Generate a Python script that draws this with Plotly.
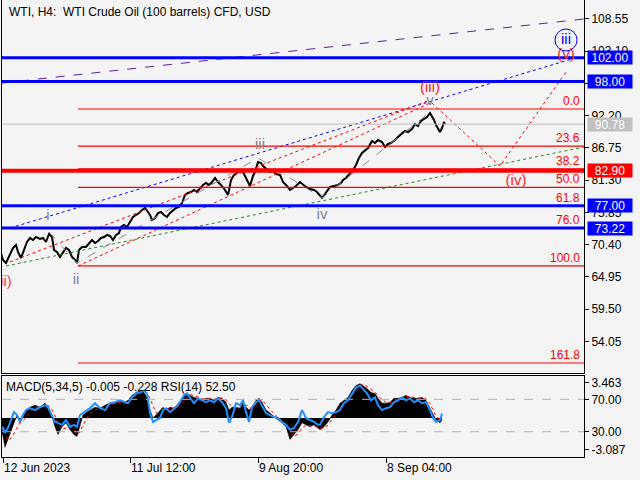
import plotly.graph_objects as go

# ---------------- data ----------------
# price path (bar index, price)
bar_x = [0,3,6,10,13,16,18,21,24,27,30,33,36,40,43,46,49,52,54,57,60,63,66,69,72,75,77,79,82,86,89,92,95,98,
         101,104,107,110,113,116,119,121,124,127,130,133,136,139,142,145,148,150,152,155,158,161,164,167,170,
         173,176,179,182,185,188,191,194,197,200,203,206,209,212,215,218,221,225,228,231,234,238,242,245,248,
         250,253,255,258,261,263,267,270,273,276,280,283,287,290,293,296,300,303,306,310,314,317,320,322,325,
         327,330,334,338,341,343,346,349,353,356,359,362,365,368,372,375,378,382,385,388,391,395,399,402,405,
         408,412,415,418,421,424,427,430,432,434,436,438,440,442,444,445]
close = [69.51,67.82,67.31,68.67,69.85,70.36,69.17,68.16,69.51,70.86,71.54,71.20,71.71,71.37,71.54,70.86,72.21,
         71.71,69.51,69.17,68.33,69.17,69.85,69.51,68.33,67.82,67.31,69.51,70.02,70.02,70.69,71.20,70.69,71.03,
         71.54,71.71,72.05,71.88,71.20,72.05,72.38,73.40,73.74,73.40,74.24,75.09,75.43,75.76,76.27,76.61,75.93,
         75.43,74.58,74.92,75.76,75.93,75.43,75.09,75.76,76.27,76.61,76.78,77.45,78.81,79.14,79.31,79.65,79.31,
         79.99,80.50,80.83,80.50,81.00,81.68,81.00,80.50,79.65,78.81,81.34,82.19,82.69,83.03,82.02,80.83,80.33,
         82.02,82.69,84.38,84.21,83.71,83.03,82.69,82.86,82.35,82.19,81.00,80.33,79.65,79.99,80.33,81.00,80.50,
         80.16,79.82,79.65,79.31,78.64,78.30,78.97,79.48,80.16,80.33,80.50,80.83,81.34,81.68,82.19,83.03,83.88,
         85.06,85.90,86.41,86.75,87.93,87.59,88.10,87.76,86.92,87.43,87.59,88.10,88.78,89.28,89.62,89.45,89.96,
         90.80,90.46,91.31,91.65,91.99,92.66,92.16,91.48,90.63,89.96,89.45,90.12,91.14,90.78]

# horizontal levels
level_prices = [102.00, 98.00, 82.90, 77.00, 73.22]
level_colors = ["#0000ff", "#0000ff", "#ff0000", "#0000ff", "#0000ff"]
last_price = 90.78

# Fibonacci retracement
fib_pct = ["0.0", "23.6", "38.2", "50.0", "61.8", "76.0", "100.0", "161.8"]
fib_price = [93.34, 87.08, 83.21, 80.08, 76.94, 73.18, 66.81, 50.41]
fib_start = 78

# diagonal / wave lines (bar, price)
purple_x, purple_y = [2, 584], [97.73, 108.55]
blue_x, blue_y = [10, 575], [73.23, 101.96]
redA_x, redA_y = [78, 430], [66.81, 94.35]
redB_x, redB_y = [10, 430], [67.48, 94.86]
green_x, green_y = [6, 584], [66.81, 86.92]
zig_x = [49, 77, 258, 322, 430]
zig_y = [72.55, 67.31, 85.06, 78.30, 92.80]
fut_x = [432, 500, 566]
fut_y = [94.35, 83.71, 99.59]

# wave labels
wave_text = ["ii)", "i", "ii", "iii", "iv", "v"]
wave_x = [6, 48, 76, 260, 322, 430]
wave_y = [64.10, 75.26, 64.44, 87.25, 75.42, 94.69]
wave_col = ["#ff4040", "#7a8298", "#7a8298", "#8a8088", "#7a8298", "#7a8298"]
big_text = ["(iii)", "(iv)", "(v)"]
big_x = [430, 516, 566]
big_y = [96.89, 81.17, 102.47]
circ_text, circ_x, circ_y = "iii", 566, 105.0

# indicator panel
ind_x = [0,3,5,8,11,14,17,20,23,26,30,35,40,45,48,52,55,58,62,66,70,74,77,80,83,87,90,95,100,105,110,115,120,
         125,128,132,136,140,144,147,150,153,156,160,163,166,170,174,178,181,184,187,190,194,198,202,206,210,214,
         218,222,226,229,232,236,240,243,246,249,252,256,259,262,266,270,274,278,282,286,290,294,298,302,306,310,
         314,318,320,324,328,332,336,340,344,348,352,356,360,363,367,371,375,378,382,386,390,394,398,402,406,410,
         414,418,422,426,430,433,436,440,442]
macd = [-1.16,-1.8,-2.89,-2.12,-1.35,-0.67,0.29,-0.48,0.10,0.77,1.06,1.25,1.06,1.45,1.06,0.10,-0.87,-1.64,-0.87,
        -0.48,-1.16,-1.64,-1.83,-0.67,0.29,0.58,0.77,1.06,0.96,1.25,1.45,1.54,1.73,1.54,1.73,2.22,2.50,2.70,2.50,
        2.02,0.77,0.00,0.29,0.77,1.06,0.77,1.06,0.96,1.45,1.73,2.22,2.41,2.22,2.02,1.93,1.73,1.93,1.93,1.73,2.02,
        1.93,1.54,0.77,1.06,1.06,0.96,1.54,1.06,0.77,1.06,1.73,1.93,1.54,0.77,0.48,0.10,-0.19,-0.48,-0.87,-2.12,
        -1.64,-1.16,-0.48,-0.67,-0.87,-0.67,-0.96,-1.16,-0.87,-0.39,0.29,0.77,1.45,1.73,2.02,2.70,3.18,3.37,3.18,
        2.89,2.50,2.41,1.93,1.45,1.45,1.54,1.93,1.93,2.02,2.22,2.02,1.93,1.93,2.02,1.73,0.96,0.29,-0.19,-0.48,-0.19]
signal = [-0.8,-1.2,-1.7,-2.2,-2.0,-1.5,-0.9,-0.5,-0.3,0.1,0.6,1.0,1.1,1.2,1.25,0.8,0.2,-0.6,-1.1,-1.0,-0.9,-1.2,
          -1.6,-1.4,-0.7,0.0,0.4,0.8,0.95,1.05,1.3,1.45,1.55,1.6,1.6,1.85,2.2,2.5,2.6,2.45,1.9,1.1,0.5,0.45,0.7,0.9,
          0.95,0.95,1.1,1.4,1.8,2.1,2.3,2.2,2.05,1.9,1.85,1.9,1.85,1.85,1.95,1.8,1.4,1.1,1.0,1.0,1.2,1.3,1.0,0.95,
          1.3,1.7,1.75,1.3,0.8,0.4,0.05,-0.3,-0.6,-1.3,-1.8,-1.6,-1.0,-0.7,-0.75,-0.8,-0.85,-1.0,-1.0,-0.7,-0.2,0.4,
          1.0,1.5,1.8,2.3,2.8,3.2,3.3,3.1,2.8,2.55,2.2,1.8,1.55,1.5,1.7,1.9,2.0,2.1,2.1,2.0,1.95,1.95,1.85,1.4,0.8,
          0.2,-0.2,-0.23]
rsi = [30.0,34.8,28.8,34.8,44.5,54.2,50.6,42.1,50.6,56.7,59.1,56.7,60.3,62.7,60.3,50.6,42.1,40.9,38.5,44.5,36.1,
       38.5,36.1,50.6,53.0,56.7,59.1,65.2,59.1,56.7,65.2,66.4,68.8,66.4,65.2,72.4,77.3,78.5,80.9,77.3,53.0,42.1,
       44.5,47.0,56.7,59.1,54.2,59.1,62.7,68.8,74.8,77.3,72.4,65.2,71.2,68.8,66.4,68.8,66.4,71.2,66.4,59.1,40.9,
       48.2,65.2,62.7,68.8,54.2,42.1,60.3,66.4,68.8,62.7,53.0,50.6,48.2,47.0,42.1,38.5,32.4,34.8,42.1,56.7,47.0,
       44.5,42.1,38.5,38.5,48.2,54.2,53.0,54.2,56.7,65.2,68.8,77.3,84.5,86.9,83.3,77.3,68.8,72.4,62.7,56.7,59.1,
       60.3,66.4,68.8,72.4,68.8,71.2,66.4,68.8,65.2,66.4,56.7,47.0,42.1,44.5,52.5]

date_ticks = [3, 130, 258, 386]
date_labels = ["12 Jun 2023", "11 Jul 12:00", "9 Aug 20:00", "8 Sep 04:00"]
price_ticks = [108.55, 103.10, 97.65, 92.20, 86.75, 81.30, 75.85, 70.40, 64.95, 59.50, 54.05]

FONT = "Liberation Sans"
BG = "#f4f4f4"

fig = go.Figure()

# price
fig.add_trace(go.Scatter(x=bar_x, y=close, mode="lines", line=dict(color="black", width=2),
                         xaxis="x", yaxis="y", hoverinfo="skip"))

def seg(xs, ys, color, dash, width=1):
    fig.add_trace(go.Scatter(x=xs, y=ys, mode="lines", line=dict(color=color, width=width, dash=dash),
                             xaxis="x", yaxis="y", hoverinfo="skip"))

seg(purple_x, purple_y, "#5b1f9e", "dash")
seg(blue_x, blue_y, "#0000ff", "dot")
seg(redA_x, redA_y, "#ff0000", "dot")
seg(redB_x, redB_y, "#ff0000", "dot")
seg(green_x, green_y, "#1e8c1e", "dot")
seg(zig_x, zig_y, "#8c8c8c", "dash")
seg(fut_x, fut_y, "#ff0000", "dot")

# horizontal levels
xmin, xmax = 2, 584
seg([xmin, xmax], [last_price, last_price], "#c0c0c0", "solid", 1)
for p in fib_price:
    seg([fib_start, xmax], [p, p], "#ff0000", "solid", 1.2)
for p, c in zip(level_prices, level_colors):
    seg([xmin, xmax], [p, p], c, "solid", 3 if c == "#0000ff" else 4)

# wave labels
fig.add_trace(go.Scatter(x=wave_x, y=wave_y, mode="text", text=wave_text,
                         textfont=dict(family=FONT, size=15, color=wave_col),
                         xaxis="x", yaxis="y", hoverinfo="skip", cliponaxis=True))
fig.add_trace(go.Scatter(x=big_x, y=big_y, mode="text", text=big_text,
                         textfont=dict(family=FONT, size=15, color="#ff2020"),
                         xaxis="x", yaxis="y", hoverinfo="skip"))
fig.add_trace(go.Scatter(x=[circ_x], y=[circ_y], mode="markers+text", text=[circ_text],
                         marker=dict(symbol="circle-open", size=22, color="#0000ff", line=dict(width=1)),
                         textposition="middle center",
                         textfont=dict(family=FONT, size=15, color="#0000ff"),
                         xaxis="x", yaxis="y", hoverinfo="skip"))

# indicator
fig.add_trace(go.Scatter(x=ind_x, y=macd, mode="lines", fill="tozeroy", fillcolor="black",
                         line=dict(color="black", width=0.5), xaxis="x2", yaxis="y2", hoverinfo="skip"))
fig.add_trace(go.Scatter(x=ind_x, y=signal, mode="lines", line=dict(color="#ff0000", width=1, dash="dot"),
                         xaxis="x2", yaxis="y2", hoverinfo="skip"))
fig.add_trace(go.Scatter(x=[xmin, xmax], y=[70, 70], mode="lines", line=dict(color="#b4b4b4", width=1, dash="dash"),
                         xaxis="x2", yaxis="y3", hoverinfo="skip"))
fig.add_trace(go.Scatter(x=[xmin, xmax], y=[30, 30], mode="lines", line=dict(color="#b4b4b4", width=1, dash="dash"),
                         xaxis="x2", yaxis="y3", hoverinfo="skip"))
fig.add_trace(go.Scatter(x=ind_x, y=rsi, mode="lines", line=dict(color="#1e90ff", width=2),
                         xaxis="x2", yaxis="y3", hoverinfo="skip"))

annotations = [
    dict(text="WTI, H4:\u00a0\u00a0WTI Crude Oil (100 barrels) CFD, USD", xref="paper", yref="paper",
         x=0, y=1, xanchor="left", yanchor="top", xshift=5, yshift=-3, showarrow=False,
         font=dict(family=FONT, size=12, color="black")),
    dict(text="MACD(5,34,5) -0.005 -0.228 RSI(14) 52.50", xref="paper", yref="paper",
         x=0, y=0.1772, xanchor="left", yanchor="top", xshift=2, yshift=-2, showarrow=False,
         font=dict(family=FONT, size=12, color="black")),
]
for pct, p in zip(fib_pct, fib_price):
    annotations.append(dict(text=pct, xref="paper", yref="y", x=1, y=p, xanchor="right", yanchor="bottom",
                            xshift=-2, yshift=-1, showarrow=False,
                            font=dict(family=FONT, size=12, color="#ff0000")))
boxes = [(102.00, "#0000ff"), (98.00, "#0000ff"), (last_price, "#c0c0c0"), (82.90, "#ff0000"),
         (77.00, "#0000ff"), (73.22, "#0000ff")]
for p, c in boxes:
    annotations.append(dict(text=f"{p:.2f}", xref="paper", yref="y", x=1, y=p, xanchor="left", yanchor="middle",
                            xshift=3, showarrow=False, bgcolor=c, width=44, height=13, borderpad=0,
                            font=dict(family=FONT, size=12, color="white")))

axis_common = dict(showgrid=False, zeroline=False, showline=True, linecolor="black", linewidth=1, mirror=True)
fig.update_layout(
    width=640, height=480, margin=dict(l=2, r=56, t=0, b=23, autoexpand=False),
    paper_bgcolor=BG, plot_bgcolor=BG, showlegend=False,
    xaxis=dict(domain=[0, 1], range=[xmin, xmax], anchor="y", showticklabels=False, ticks="", **axis_common),
    yaxis=dict(domain=[0.1838, 1], range=[48.72, 111.76], side="right", tickvals=price_ticks,
               ticktext=[f"{v:.2f}" for v in price_ticks], ticks="outside", ticklen=4, tickcolor="black",
               tickfont=dict(family=FONT, size=12, color="black"), anchor="x", **axis_common),
    xaxis2=dict(domain=[0, 1], range=[xmin, xmax], anchor="y2", tickvals=date_ticks, ticktext=date_labels,
                ticks="outside", ticklen=5, tickcolor="black", ticklabelposition="outside right",
                tickfont=dict(family=FONT, size=12, color="black"), **axis_common),
    yaxis2=dict(domain=[0, 0.1772], range=[-3.84, 4.12], side="right", tickvals=[3.463, -3.087],
                ticktext=["3.463", "-3.087"], ticks="outside", ticklen=4, tickcolor="black",
                tickfont=dict(family=FONT, size=12, color="black"), anchor="x2", **axis_common),
    yaxis3=dict(range=[-1.2, 98.8], overlaying="y2", side="right", tickvals=[70, 30],
                ticktext=["70.00", "30.00"], ticks="outside", ticklen=4, tickcolor="black",
                tickfont=dict(family=FONT, size=12, color="black"), anchor="x2", showgrid=False,
                zeroline=False),
    annotations=annotations,
)

fig.write_html("out.html", config={"displayModeBar": False},
               post_script="document.body.style.margin='0';")
